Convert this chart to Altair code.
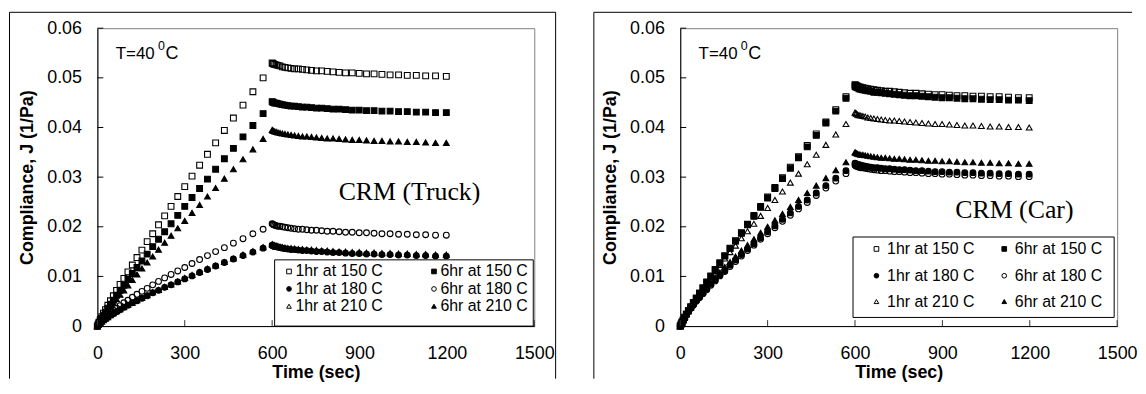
import altair as alt
import pandas as pd

# ---------------- data (J in units of 1e-3 1/Pa) ----------------
SERIES = ["1hr at 150 C", "6hr at 150 C", "1hr at 180 C", "6hr at 180 C", "1hr at 210 C", "6hr at 210 C"]
SHAPES = ["square", "square", "circle", "circle", "triangle-up", "triangle-up"]
FILLS = ["transparent", "black", "black", "transparent", "transparent", "black"]

TIME_LOAD = [0, 3, 6, 10, 15, 21, 28, 36, 45, 55, 66, 78, 91, 105, 120, 136, 153, 171, 190, 210,
             231, 253, 276, 300, 325, 351, 378, 406, 436, 467, 500, 534, 569]
TIME_REC = [600, 602, 605, 609, 614, 620, 627, 635, 644, 654, 665, 677, 690, 704, 719, 735, 752, 770,
            789, 809, 830, 852, 875, 899, 924, 950, 977, 1005, 1034, 1064, 1095, 1127, 1161, 1198]

# CRM (Truck)
truck_1h150_load = [0, 0.4, 0.8, 1.3, 1.9, 2.6, 3.3, 4.2, 5.1, 6.1, 7.2, 8.4, 9.6, 10.9, 12.3, 13.8, 15.3, 17.0, 18.6, 20.4, 22.2, 24.1, 26.1, 28.1, 30.2, 32.4, 34.6, 36.9, 39.4, 41.9, 44.5, 47.2, 50.0]
truck_1h150_rec = [53.0, 52.9, 52.8, 52.7, 52.6, 52.5, 52.4, 52.2, 52.1, 52.0, 51.9, 51.8, 51.8, 51.7, 51.6, 51.5, 51.4, 51.4, 51.3, 51.2, 51.1, 51.0, 51.0, 50.9, 50.8, 50.8, 50.7, 50.6, 50.6, 50.5, 50.5, 50.4, 50.4, 50.3]
truck_6h150_load = [0, 0.4, 0.7, 1.1, 1.6, 2.2, 2.8, 3.6, 4.4, 5.2, 6.2, 7.2, 8.2, 9.4, 10.6, 11.8, 13.1, 14.5, 16.0, 17.5, 19.0, 20.6, 22.3, 24.1, 25.9, 27.7, 29.6, 31.6, 33.7, 35.8, 38.1, 40.4, 42.8]
truck_6h150_rec = [45.2, 45.1, 45.0, 44.9, 44.9, 44.8, 44.7, 44.6, 44.5, 44.4, 44.3, 44.3, 44.2, 44.1, 44.1, 44.0, 43.9, 43.9, 43.8, 43.7, 43.7, 43.6, 43.5, 43.5, 43.4, 43.4, 43.3, 43.3, 43.2, 43.2, 43.1, 43.1, 43.0, 43.0]
truck_1h180_load = [0, 0.3, 0.5, 0.7, 0.9, 1.2, 1.5, 1.8, 2.2, 2.5, 2.9, 3.3, 3.8, 4.2, 4.7, 5.1, 5.6, 6.1, 6.7, 7.2, 7.8, 8.3, 8.9, 9.5, 10.1, 10.8, 11.4, 12.1, 12.8, 13.5, 14.2, 14.9, 15.7]
truck_1h180_rec = [16.3, 16.2, 16.1, 16.0, 16.0, 15.9, 15.8, 15.7, 15.6, 15.5, 15.4, 15.4, 15.3, 15.2, 15.2, 15.1, 15.0, 15.0, 14.9, 14.8, 14.8, 14.7, 14.6, 14.6, 14.5, 14.5, 14.4, 14.4, 14.3, 14.3, 14.2, 14.2, 14.1, 14.1]
truck_6h180_load = [0, 0.3, 0.6, 0.8, 1.1, 1.5, 1.9, 2.3, 2.7, 3.2, 3.6, 4.1, 4.7, 5.2, 5.8, 6.4, 7.0, 7.6, 8.3, 9.0, 9.7, 10.4, 11.1, 11.8, 12.6, 13.4, 14.2, 15.0, 15.8, 16.7, 17.6, 18.6, 19.5]
truck_6h180_rec = [20.6, 20.5, 20.4, 20.3, 20.2, 20.1, 20.1, 20.0, 19.9, 19.8, 19.7, 19.6, 19.5, 19.5, 19.4, 19.3, 19.3, 19.2, 19.1, 19.1, 19.0, 18.9, 18.9, 18.8, 18.8, 18.7, 18.6, 18.6, 18.5, 18.5, 18.4, 18.4, 18.3, 18.3]
truck_1h210_load = [0, 0.3, 0.5, 0.7, 0.9, 1.2, 1.5, 1.8, 2.2, 2.6, 3.0, 3.4, 3.8, 4.3, 4.7, 5.2, 5.7, 6.2, 6.8, 7.3, 7.9, 8.4, 9.0, 9.7, 10.3, 10.9, 11.6, 12.2, 12.9, 13.6, 14.4, 15.1, 15.9]
truck_1h210_rec = [16.5, 16.4, 16.3, 16.3, 16.2, 16.1, 16.0, 15.9, 15.8, 15.7, 15.7, 15.6, 15.5, 15.5, 15.4, 15.4, 15.3, 15.2, 15.2, 15.1, 15.0, 15.0, 14.9, 14.9, 14.8, 14.8, 14.7, 14.7, 14.6, 14.6, 14.5, 14.5, 14.4, 14.4]
truck_6h210_load = [0, 0.3, 0.6, 1.0, 1.4, 1.9, 2.5, 3.1, 3.8, 4.6, 5.4, 6.3, 7.2, 8.2, 9.3, 10.4, 11.6, 12.8, 14.0, 15.4, 16.8, 18.2, 19.7, 21.2, 22.8, 24.4, 26.1, 27.8, 29.7, 31.6, 33.6, 35.6, 37.7]
truck_6h210_rec = [39.5, 39.4, 39.3, 39.2, 39.1, 39.0, 38.9, 38.8, 38.7, 38.6, 38.5, 38.4, 38.3, 38.2, 38.2, 38.1, 38.0, 37.9, 37.8, 37.8, 37.7, 37.6, 37.5, 37.5, 37.4, 37.3, 37.3, 37.2, 37.2, 37.1, 37.1, 37.0, 36.9, 36.9]

# CRM (Car)
car_1h150_load = [0, 0.4, 0.8, 1.2, 1.8, 2.4, 3.1, 3.9, 4.7, 5.6, 6.6, 7.7, 8.9, 10.1, 11.4, 12.7, 14.2, 15.7, 17.2, 18.8, 20.5, 22.3, 24.1, 26.0, 27.9, 29.9, 32.0, 34.1, 36.4, 38.7, 41.1, 43.6, 46.2]
car_1h150_rec = [48.6, 48.5, 48.4, 48.3, 48.2, 48.1, 48.0, 47.9, 47.8, 47.7, 47.6, 47.5, 47.4, 47.3, 47.3, 47.2, 47.1, 47.0, 46.9, 46.9, 46.8, 46.7, 46.6, 46.6, 46.5, 46.4, 46.4, 46.3, 46.3, 46.2, 46.2, 46.1, 46.0, 46.0]
car_6h150_load = [0, 0.4, 0.8, 1.2, 1.7, 2.4, 3.1, 3.8, 4.7, 5.6, 6.6, 7.7, 8.8, 10.0, 11.3, 12.7, 14.1, 15.6, 17.1, 18.7, 20.4, 22.1, 23.9, 25.8, 27.7, 29.7, 31.8, 33.9, 36.1, 38.4, 40.9, 43.3, 45.9]
car_6h150_rec = [48.3, 48.2, 48.1, 48.0, 47.8, 47.7, 47.6, 47.5, 47.4, 47.3, 47.1, 47.1, 47.0, 46.9, 46.8, 46.7, 46.6, 46.5, 46.4, 46.4, 46.3, 46.2, 46.1, 46.0, 46.0, 45.9, 45.8, 45.8, 45.7, 45.6, 45.6, 45.5, 45.5, 45.4]
car_1h180_load = [0, 0.5, 0.9, 1.3, 1.8, 2.4, 3.0, 3.6, 4.3, 5.1, 5.8, 6.6, 7.5, 8.4, 9.3, 10.3, 11.2, 12.3, 13.3, 14.4, 15.5, 16.6, 17.8, 19.0, 20.2, 21.5, 22.8, 24.1, 25.4, 26.8, 28.3, 29.8, 31.3]
car_1h180_rec = [32.8, 32.7, 32.6, 32.5, 32.5, 32.4, 32.3, 32.2, 32.1, 32.0, 31.9, 31.9, 31.8, 31.7, 31.7, 31.6, 31.5, 31.5, 31.4, 31.3, 31.3, 31.2, 31.1, 31.1, 31.0, 31.0, 30.9, 30.9, 30.8, 30.8, 30.7, 30.7, 30.6, 30.6]
car_6h180_load = [0, 0.5, 0.9, 1.3, 1.8, 2.3, 2.9, 3.6, 4.2, 5.0, 5.7, 6.5, 7.3, 8.2, 9.1, 10.1, 11.0, 12.0, 13.0, 14.1, 15.2, 16.3, 17.5, 18.6, 19.8, 21.1, 22.3, 23.6, 24.9, 26.3, 27.8, 29.2, 30.7]
car_6h180_rec = [32.4, 32.3, 32.2, 32.1, 32.0, 31.9, 31.9, 31.8, 31.7, 31.6, 31.5, 31.4, 31.3, 31.3, 31.2, 31.1, 31.1, 31.0, 30.9, 30.9, 30.8, 30.7, 30.7, 30.6, 30.6, 30.5, 30.4, 30.4, 30.3, 30.3, 30.2, 30.2, 30.1, 30.1]
car_1h210_load = [0, 0.5, 0.9, 1.4, 2.0, 2.6, 3.3, 4.1, 4.9, 5.8, 6.7, 7.7, 8.8, 9.9, 11.1, 12.3, 13.6, 14.9, 16.2, 17.7, 19.1, 20.6, 22.2, 23.8, 25.4, 27.1, 28.9, 30.7, 32.6, 34.5, 36.5, 38.6, 40.7]
car_1h210_rec = [43.0, 42.9, 42.8, 42.6, 42.5, 42.4, 42.3, 42.2, 42.0, 41.9, 41.8, 41.7, 41.6, 41.5, 41.4, 41.4, 41.3, 41.2, 41.1, 41.0, 40.9, 40.8, 40.7, 40.7, 40.6, 40.5, 40.4, 40.4, 40.3, 40.2, 40.2, 40.1, 40.1, 40.0]
car_6h210_load = [0, 0.6, 0.9, 1.4, 1.9, 2.5, 3.2, 3.8, 4.6, 5.3, 6.2, 7.0, 7.9, 8.8, 9.8, 10.8, 11.9, 12.9, 14.0, 15.2, 16.3, 17.5, 18.8, 20.0, 21.3, 22.6, 24.0, 25.4, 26.8, 28.3, 29.8, 31.4, 33.0]
car_6h210_rec = [35.0, 34.9, 34.8, 34.7, 34.6, 34.5, 34.5, 34.4, 34.3, 34.2, 34.1, 34.0, 33.9, 33.9, 33.8, 33.7, 33.7, 33.6, 33.5, 33.5, 33.4, 33.3, 33.3, 33.2, 33.2, 33.1, 33.0, 33.0, 32.9, 32.9, 32.8, 32.8, 32.7, 32.7]

X_TICKS = [0, 300, 600, 900, 1200, 1500]
Y_TICKS = [0, 0.01, 0.02, 0.03, 0.04, 0.05, 0.06]

FONT = "Liberation Sans"
SERIF = "Liberation Serif"

W, H = 440, 300

XS = alt.Scale(domain=[0, 1500], nice=False, zero=False)
YS = alt.Scale(domain=[0, 0.06], nice=False, zero=False)
AX_X = alt.Axis(values=X_TICKS, format="d", title="Time (sec)", labelPadding=19, titlePadding=1)
AX_Y = alt.Axis(values=Y_TICKS, title="Compliance, J (1/Pa)", labelPadding=16, titlePadding=10,
                labelExpr="datum.value == 0 ? '0' : format(datum.value, '.2f')")
ONE = pd.DataFrame({"k": [0]})


def build_df(loads, recs):
    rows = []
    for name, load, rec in zip(SERIES, loads, recs):
        for t, j in zip(TIME_LOAD + TIME_REC, load + rec):
            rows.append({"series": name, "t": t, "J": j / 1000.0})
    return pd.DataFrame(rows)


def txt(s, px, py, size, font=FONT, align="left", baseline="alphabetic"):
    return alt.Chart(ONE).mark_text(text=s, font=font, fontSize=size, align=align,
                                    baseline=baseline, color="black").encode(
        x=alt.value(px), y=alt.value(py))


def panel(loads, recs, crm_text, crm_pos, box, sym_x, txt_x, row_y, frame, right_edge):
    df = build_df(loads, recs)
    x = alt.X("t:Q", scale=XS, axis=AX_X)
    y = alt.Y("J:Q", scale=YS, axis=AX_Y)
    pts = alt.Chart(df).mark_point(filled=True, size=34, stroke="black", strokeWidth=1.1, opacity=1).encode(
        x=x, y=y,
        shape=alt.Shape("series:N", scale=alt.Scale(domain=SERIES, range=SHAPES), legend=None),
        fill=alt.Fill("series:N", scale=alt.Scale(domain=SERIES, range=FILLS), legend=None),
    )
    xt = alt.Chart(pd.DataFrame({"t": X_TICKS})).mark_rule(color="#333333", strokeWidth=1).encode(
        x=x, y=alt.value(H), y2=alt.value(H - 6))
    yt = alt.Chart(pd.DataFrame({"J": Y_TICKS})).mark_rule(color="black", strokeWidth=1).encode(
        y=y, x=alt.value(0), x2=alt.value(6))
    layers = [pts, xt, yt]

    # annotations
    layers += [txt("T=40", 18.5, 30.6, 17), txt("0", 61, 21.5, 12.5), txt("C", 68.5, 30.6, 18)]
    layers.append(txt(crm_text, crm_pos[0], crm_pos[1], 26, font=SERIF))

    # legend box
    layers.append(alt.Chart(ONE).mark_rect(fill="white", stroke="black", strokeWidth=1).encode(
        x=alt.value(box[0]), x2=alt.value(box[1]), y=alt.value(box[2]), y2=alt.value(box[3])))
    for i, name in enumerate(SERIES):
        c, r = i % 2, i // 2
        layers.append(alt.Chart(ONE).mark_point(shape=SHAPES[i], filled=True, size=22, stroke="black",
                                                strokeWidth=1, opacity=1, fill=FILLS[i]).encode(
            x=alt.value(sym_x[c]), y=alt.value(row_y[r])))
        layers.append(txt(name, txt_x[c], row_y[r], 16, baseline="middle"))

    # outer frame
    fl, ft, fr, fb = frame
    layers.append(alt.Chart(ONE).mark_rule(color="black", strokeWidth=1).encode(
        x=alt.value(fl), x2=alt.value(fr), y=alt.value(ft)))
    layers.append(alt.Chart(ONE).mark_rule(color="black", strokeWidth=1).encode(
        x=alt.value(fl), y=alt.value(ft), y2=alt.value(fb)))
    if right_edge:
        layers.append(alt.Chart(ONE).mark_rule(color="black", strokeWidth=1).encode(
            x=alt.value(fr), y=alt.value(ft), y2=alt.value(fb)))
    return alt.layer(*layers).properties(width=W, height=H)


truck_loads = [truck_1h150_load, truck_6h150_load, truck_1h180_load, truck_6h180_load, truck_1h210_load, truck_6h210_load]
truck_recs = [truck_1h150_rec, truck_6h150_rec, truck_1h180_rec, truck_6h180_rec, truck_1h210_rec, truck_6h210_rec]
car_loads = [car_1h150_load, car_6h150_load, car_1h180_load, car_6h180_load, car_1h210_load, car_6h210_load]
car_recs = [car_1h150_rec, car_6h150_rec, car_1h180_rec, car_6h180_rec, car_1h210_rec, car_6h210_rec]

left = panel(truck_loads, truck_recs, "CRM (Truck)", (243, 173.3),
             (178.5, 439, 233.3, 300), (193, 339), (199.5, 345.5), (245, 262.6, 280),
             (-88.5, -16, 461.5, 353), True)
right = panel(car_loads, car_recs, "CRM (Car)", (277, 191.6),
              (174, 437, 210.3, 291.3), (197.6, 326.3), (208.3, 337), (222.3, 249.3, 275.3),
              (-87, -16, 455, 353), False)

chart = alt.hconcat(left, right, spacing=36).properties(
    padding={"left": 0, "top": 2, "right": 0, "bottom": 0}
).configure(font=FONT, background="white").configure_view(
    stroke="#808080", strokeWidth=1
).configure_axis(
    grid=False, ticks=False, domainColor="black", domainWidth=1,
    labelColor="black", titleColor="black", labelFont=FONT, titleFont=FONT,
    labelFontSize=18, titleFontSize=18, titleFontWeight="bold",
    labelFlush=False, labelOverlap=False,
)

chart.save("out.html", embed_options={"renderer": "svg", "actions": False})
